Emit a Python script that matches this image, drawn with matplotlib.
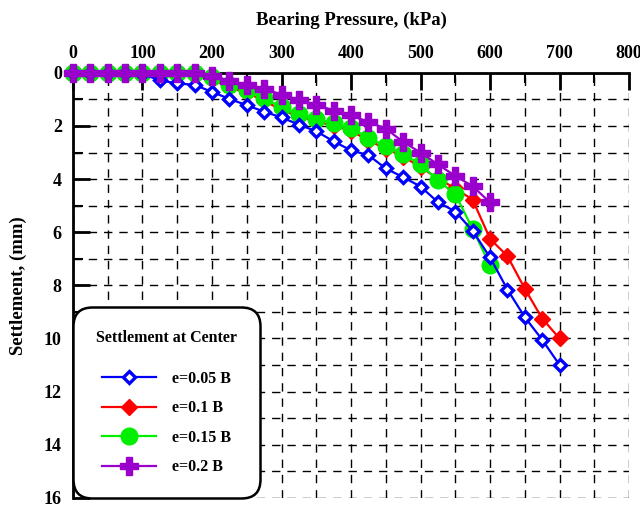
import matplotlib.pyplot as plt
import numpy as np

# Bearing pressure steps (kPa) and settlement (mm) for each eccentricity
p_005 = np.arange(0, 701, 25)
s_005 = [0, 0, 0, 0, 0.05, 0.28, 0.4, 0.45, 0.72, 0.98, 1.22, 1.46, 1.68, 1.95, 2.2,
         2.58, 2.92, 3.1, 3.6, 3.93, 4.28, 4.87, 5.22, 5.95, 6.95, 8.16, 9.2, 10.05, 11.0]

p_010 = np.arange(0, 701, 25)
s_010 = [0, 0, 0, 0, 0, 0, 0, 0.05, 0.25, 0.55, 0.75, 1.05, 1.4, 1.65, 1.82,
         2.0, 2.18, 2.55, 2.85, 3.15, 3.55, 3.98, 4.35, 4.78, 6.25, 6.9, 8.13, 9.25, 10.0]

p_015 = np.arange(0, 601, 25)
s_015 = [0, 0, 0, 0, 0, 0, 0, 0, 0.15, 0.45, 0.65, 0.95, 1.3, 1.55, 1.72,
         1.9, 2.08, 2.45, 2.75, 3.05, 3.45, 4.05, 4.57, 5.88, 7.25]

p_020 = np.arange(0, 601, 25)
s_020 = [0, 0, 0, 0, 0, 0, 0, 0, 0.1, 0.3, 0.45, 0.6, 0.82, 1.02, 1.2,
         1.42, 1.6, 1.85, 2.1, 2.6, 3.0, 3.45, 3.88, 4.27, 4.88]

plt.rcParams['font.family'] = ['Liberation Serif', 'DejaVu Serif']
plt.rcParams['font.weight'] = 'bold'
fs = 13

fig = plt.figure(figsize=(6.4, 5.08), dpi=100)
ax = fig.add_axes([0.114, 0.02, 0.869, 0.8366])

ax.plot(p_005, s_005, color='#0000FF', lw=1.6, marker='D', ms=6.2, mfc='white',
        mec='#0000FF', mew=2.4, label='e=0.05 B', clip_on=False, zorder=5)
ax.plot(p_010, s_010, color='#FF0000', lw=1.6, marker='D', ms=8.5, mfc='#FF0000',
        mec='#FF0000', label='e=0.1 B', clip_on=False, zorder=3)
ax.plot(p_015, s_015, color='#00EE00', lw=1.6, marker='o', ms=12, mfc='#00EE00',
        mec='#00EE00', label='e=0.15 B', clip_on=False, zorder=4)
ax.plot(p_020, s_020, color='#9900CC', lw=1.6, marker='P', ms=13, mfc='#9900CC',
        mec='#9900CC', label='e=0.2 B', clip_on=False, zorder=6)

ax.set_xlim(0, 800)
ax.set_ylim(16, 0)
ax.xaxis.tick_top()
ax.xaxis.set_label_position('top')
ax.set_xticks(np.arange(0, 801, 100))
ax.set_xticks(np.arange(0, 801, 50), minor=True)
ax.set_yticks(np.arange(0, 17, 2))
ax.set_yticks(np.arange(0, 17, 1), minor=True)

ax.set_xlabel('Bearing Pressure, (kPa)', fontsize=fs + 0.5, fontweight='bold', labelpad=14)
ax.set_ylabel('Settlement, (mm)', fontsize=fs + 0.5, fontweight='bold', labelpad=12)

ax.tick_params(axis='both', which='major', direction='in', length=12, width=2,
               labelsize=fs, pad=8)
ax.tick_params(axis='both', which='minor', direction='in', length=7, width=1.5)
for lbl in ax.get_xticklabels() + ax.get_yticklabels():
    lbl.set_fontweight('bold')

ax.grid(which='both', linestyle=(0, (6, 5)), color='black', lw=1, zorder=0)

for side in ['right', 'bottom']:
    ax.spines[side].set_visible(False)
for side in ['top', 'left']:
    ax.spines[side].set_linewidth(2)

leg_fs = 11.5
leg = ax.legend(loc='lower left', bbox_to_anchor=(0.006, 0.006), borderaxespad=0,
                title='Settlement at Center',
                title_fontproperties={'weight': 'bold', 'size': leg_fs},
                prop={'weight': 'bold', 'size': leg_fs},
                handlelength=3.4, handletextpad=1.0, labelspacing=0.84,
                borderpad=1.25, fancybox=True, framealpha=1, edgecolor='black')
leg.get_frame().set_linewidth(1.8)
leg.get_frame().set_boxstyle('round', pad=0.2, rounding_size=1.2)
leg._legend_box.sep = 18
leg.set_zorder(10)

fig.savefig('out.png', dpi=100)
